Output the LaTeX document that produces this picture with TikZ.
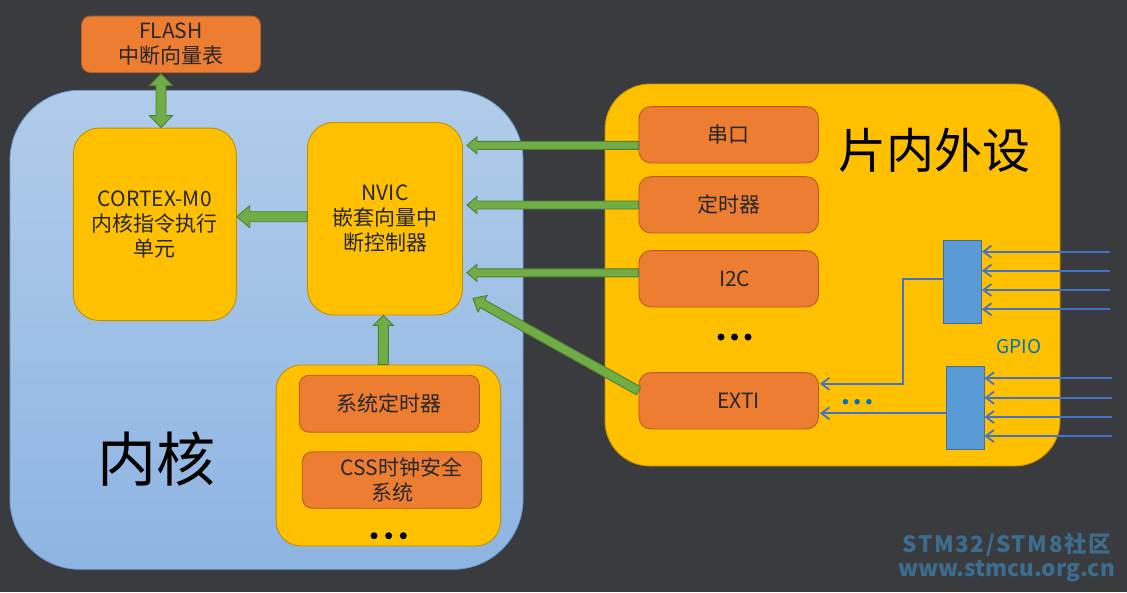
\documentclass[tikz,border=0pt]{standalone}
\usepackage{fontspec}
\setmainfont{Noto Sans CJK SC}
\usetikzlibrary{arrows.meta,calc}
\definecolor{bg}{HTML}{3A3B3F}
\definecolor{coretop}{HTML}{B1CCEA}
\definecolor{corebot}{HTML}{8DB4E2}
\definecolor{coreline}{HTML}{6A9BD0}
\definecolor{ylw}{HTML}{FFC000}
\definecolor{ylwline}{HTML}{C09100}
\definecolor{org}{HTML}{ED7D31}
\definecolor{orgline}{HTML}{B55D22}
\definecolor{grn}{HTML}{70AD47}
\definecolor{grnline}{HTML}{507E32}
\definecolor{gpio}{HTML}{5B9BD5}
\definecolor{gpioline}{HTML}{41719C}
\definecolor{wire}{HTML}{4472C4}
\definecolor{txt}{HTML}{262626}
\definecolor{gpiotxt}{HTML}{0070C0}
\definecolor{wmark}{HTML}{3D6D8E}
\newcommand\fatarrow[5]{%
  \coordinate (fa-a) at (#1);
  \coordinate (fa-b) at (#2);
  \coordinate (fa-h) at ($(fa-b)!#5!(fa-a)$);
  \draw[fat] ($(fa-a)!#3!90:(fa-b)$) -- ($(fa-h)!#3!90:(fa-b)$) -- ($(fa-h)!#4!90:(fa-b)$) -- (fa-b)
    -- ($(fa-h)!#4!-90:(fa-b)$) -- ($(fa-h)!#3!-90:(fa-b)$) -- ($(fa-a)!#3!-90:(fa-b)$) -- cycle;}
\newcommand\fatdouble[5]{%
  \coordinate (fa-a) at (#1);
  \coordinate (fa-b) at (#2);
  \coordinate (fa-h) at ($(fa-b)!#5!(fa-a)$);
  \coordinate (fa-g) at ($(fa-a)!#5!(fa-b)$);
  \draw[fat] (fa-a) -- ($(fa-g)!#4!90:(fa-b)$) -- ($(fa-g)!#3!90:(fa-b)$) -- ($(fa-h)!#3!90:(fa-b)$)
    -- ($(fa-h)!#4!90:(fa-b)$) -- (fa-b) -- ($(fa-h)!#4!-90:(fa-b)$) -- ($(fa-h)!#3!-90:(fa-b)$)
    -- ($(fa-g)!#3!-90:(fa-b)$) -- ($(fa-g)!#4!-90:(fa-b)$) -- cycle;}
\begin{document}
\begin{tikzpicture}[x=1pt,y=-1pt,
  obox/.style={draw=orgline, fill=org, line width=0.9pt, rounded corners=10pt, text=txt,
    font=\fontsize{21}{25}\selectfont, align=center, inner sep=0pt},
  ybox/.style={draw=ylwline, fill=ylw, line width=0.9pt, text=txt,
    font=\fontsize{21}{25}\selectfont, align=center, inner sep=0pt},
  fat/.style={fill=grn, draw=grnline, line width=0.9pt, line join=miter},
  wirearrow/.style={draw=wire, line width=1.8pt, -{Straight Barb[length=8pt,width=12pt]}},
  gpiobox/.style={draw=gpioline, fill=gpio, line width=0.9pt, minimum width=38pt, minimum height=83pt, inner sep=0pt},
  bdot/.style={circle, fill=black, minimum size=7pt, inner sep=0pt},
  wdot/.style={circle, fill=gpiotxt, minimum size=5.5pt, inner sep=0pt},
  big/.style={text=black, inner sep=0pt},
  wm/.style={text=wmark, font=\bfseries\fontsize{22.5}{24}\selectfont, inner sep=0pt},
  ]
\fill[bg] (0,0) rectangle (1127,592);
\useasboundingbox (0,0) rectangle (1127,592);

% core region
\node[draw=coreline, line width=0.8pt, top color=coretop, bottom color=corebot, rounded corners=70pt,
  minimum width=513pt, minimum height=479pt, inner sep=0pt] (core) at (266.5,329.8) {};
\node[big, font=\fontsize{59}{62}\selectfont] (coretitle) at (156.7,459) {内核};

\node[obox, minimum width=179pt, minimum height=56.5pt, rounded corners=9pt] (flash) at (171,44.3) {FLASH\\中断向量表};
\node[ybox, rounded corners=26pt, minimum width=163pt, minimum height=192.5pt] (cortex) at (154.8,224.3) {CORTEX-M0\\内核指令执行\\单元};
\node[ybox, rounded corners=26pt, minimum width=155pt, minimum height=192.5pt] (nvic) at (385,218.7) {NVIC\\嵌套向量中\\断控制器};

\node[ybox, rounded corners=25pt, minimum width=224.5pt, minimum height=181pt] (group) at (388.3,455.5) {};
\node[obox, minimum width=180pt, minimum height=57pt] (systick) at (389.3,403.7) {系统定时器};
\node[obox, minimum width=179.5pt, minimum height=56.5pt] (css) at (392,480) {\hspace*{19pt}CSS时钟安全\\系统};
\node[bdot] (gd1) at (374,535.7) {};
\node[bdot] (gd2) at (388.7,535.7) {};
\node[bdot] (gd3) at (403.3,535.7) {};

% peripherals
\node[ybox, rounded corners=45pt, minimum width=455pt, minimum height=382pt] (periph) at (832.5,275) {};
\node[big, font=\fontsize{48}{50}\selectfont] (pertitle) at (934.5,150) {片内外设};
\node[obox, minimum width=179.5pt, minimum height=56.3pt, rounded corners=12pt] (uart) at (728.7,134.8) {串口};
\node[obox, minimum width=179.5pt, minimum height=56.3pt, rounded corners=12pt] (timer) at (728.7,204.8) {定时器};
\node[obox, minimum width=179.5pt, minimum height=56.3pt, rounded corners=12pt] (i2c) at (728.7,278.8) {\hspace*{12pt}I2C};
\node[obox, minimum width=179.5pt, minimum height=56.3pt, rounded corners=12pt] (exti) at (728.7,400.8) {\hspace*{20pt}EXTI};
\node[bdot] (pd1) at (721,337) {};
\node[bdot] (pd2) at (734.5,337) {};
\node[bdot] (pd3) at (748,337) {};

\node[gpiobox] (gpio1) at (962.5,282.3) {};
\node[gpiobox] (gpio2) at (965,408.3) {};
\node[text=gpiotxt, font=\fontsize{19}{20}\selectfont, inner sep=0pt] (gpiolabel) at (1019,347) {GPIO};

% input wires
\foreach \yy [count=\i] in {251.7,270.7,290,309.3} {
  \coordinate (ga\i) at (1110,\yy);
  \draw[wirearrow] (ga\i) -- (ga\i -| gpio1.east);
}
\foreach \yy [count=\i] in {378.3,397.7,417,436} {
  \coordinate (gb\i) at (1112,\yy);
  \draw[wirearrow] (gb\i) -- (gb\i -| gpio2.east);
}
\coordinate (c1) at ($(gpio1.west)+(0,-3)$);
\coordinate (c1t) at ($(exti.east)+(1,-17)$);
\draw[wirearrow] (c1) -- ++(-40,0) |- (c1t);
\coordinate (c2) at ($(gpio2.west)+(0,5)$);
\draw[wirearrow] (c2) -- ($(c2 -| exti.east)+(1,0)$);
\node[wdot] (wd1) at (845.4,401.7) {};
\node[wdot] (wd2) at (857.1,401.7) {};
\node[wdot] (wd3) at (868.9,401.7) {};

% green arrows
\coordinate (fl) at ($(flash.south)+(-10,0.6)$);
\fatdouble{fl}{cortex.north -| fl}{5pt}{11.5pt}{12pt}
\coordinate (nv) at ($(nvic.west)+(0,-2)$);
\fatarrow{nv}{cortex.east |- nv}{5pt}{11pt}{13pt}
\coordinate (gr) at ($(group.north)+(-5,0)$);
\fatarrow{gr}{nvic.south -| gr}{5pt}{10pt}{10pt}
\coordinate (ua) at ($(uart.west)+(0,10.5)$);
\fatarrow{ua}{$(nvic.east |- ua)+(4,0)$}{4pt}{8.5pt}{10pt}
\coordinate (ta) at ($(timer.west)+(0,0.2)$);
\fatarrow{ta}{$(nvic.east |- ta)+(4,0)$}{4pt}{8.5pt}{10pt}
\coordinate (ia) at ($(i2c.west)+(0,-6)$);
\fatarrow{ia}{$(nvic.east |- ia)+(4,0)$}{4pt}{8.5pt}{10pt}
\fatarrow{$(exti.west)+(0,-10)$}{$(nvic.south east)+(10,-17)$}{4.5pt}{9.5pt}{11pt}

% watermark
\node[wm, font=\bfseries\fontsize{22.5}{24}\selectfont\addfontfeature{LetterSpace=7}] (wm1) at (1007,545) {STM32/STM8社区};
\node[wm] (wm2) at (1006.5,571) {www.stmcu.org.cn};
\end{tikzpicture}
\end{document}
